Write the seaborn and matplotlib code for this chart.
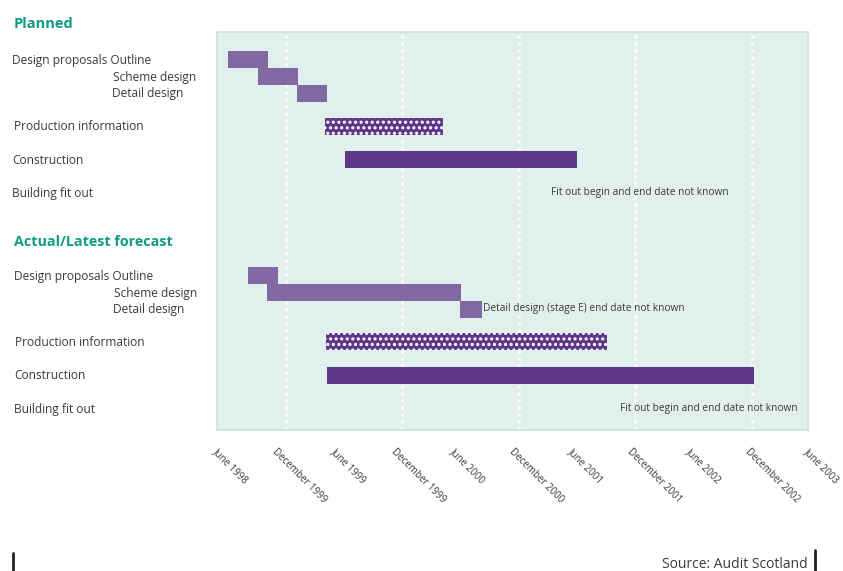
import matplotlib
matplotlib.use("Agg")
import matplotlib.pyplot as plt
import matplotlib.transforms as mtransforms
from matplotlib.lines import Line2D
import seaborn as sns

# ---------------- data (months since June 1998) ----------------
tick_labels = ["June 1998", "December 1999", "June 1999", "December 1999",
               "June 2000", "December 2000", "June 2001", "December 2001",
               "June 2002", "December 2002", "June 2003"]
tick_months = [0, 6, 12, 18, 24, 30, 36, 42, 48, 54, 60]

row_labels = ["Design proposals Outline", "Scheme design", "Detail design",
              "Production information", "Construction", "Building fit out"]

planned_start = [1.1, 4.2, 8.1, 11.0, 13.0]
planned_end = [5.2, 8.2, 11.2, 22.9, 36.5]

actual_start = [3.1, 5.1, 24.7, 11.1, 11.2]
actual_end = [6.2, 24.8, 26.9, 39.6, 54.5]

bar_kind = ["light", "light", "light", "pattern", "dark"]

planned_note = "Fit out begin and end date not known"
planned_note_at = 33.9
actual_fit_note = "Fit out begin and end date not known"
actual_fit_note_at = 40.9
actual_detail_note = "Detail design (stage E) end date not known"

headers = ["Planned", "Actual/Latest forecast"]
source = "Source: Audit Scotland"

# ---------------- style ----------------
sns.set_theme(style="white")
plt.rcParams["font.family"] = ["Open Sans", "DejaVu Sans"]
plt.rcParams["hatch.linewidth"] = 1.5

LIGHT = "#8168A3"
DARK = "#5D3786"
BG = "#E1F0EC"
BORDER = "#C8E3DA"
GREEN = "#0E9C7E"
TXT = "#3A3A3A"

W, H = 843, 571
fig = plt.figure(figsize=(W / 100, H / 100), dpi=100)
ax = fig.add_axes([217 / W, 1 - 430 / H, 591 / W, 398 / H])
ax.set_facecolor(BG)
for s in ax.spines.values():
    s.set_color(BORDER)
    s.set_linewidth(1.2)

# y in pixel-like layout units (top of figure = 0)
ax.set_ylim(430, 32)
ax.set_xlim(0, 60)

planned_rows = [59.5, 76.5, 93, 126, 159.5, 193]
actual_rows = [275.5, 292.5, 309, 341.5, 375, 409]
bar_h = 17

# gridlines
for gx in [7.0, 18.8, 30.7, 42.4, 54.3]:
    ax.axvline(gx, color="white", lw=1.8, ls=(0, (1.2, 1.6)), zorder=1)


def draw_bars(starts, ends, rows):
    for s, e, y, k in zip(starts, ends, rows, bar_kind):
        if k == "light":
            ax.barh(y, e - s, left=s, height=bar_h, color=LIGHT, lw=0, zorder=2)
        elif k == "dark":
            ax.barh(y, e - s, left=s, height=bar_h, color=DARK, lw=0, zorder=2)
        else:
            ax.barh(y, e - s, left=s, height=bar_h, facecolor=DARK,
                    edgecolor="white", hatch="...", lw=0, zorder=2)


draw_bars(planned_start, planned_end, planned_rows)
draw_bars(actual_start, actual_end, actual_rows)

ax.text(planned_note_at, planned_rows[5], planned_note, fontsize=7.3,
        color=TXT, va="center", ha="left")
ax.text(actual_fit_note_at, actual_rows[5], actual_fit_note, fontsize=7.3,
        color=TXT, va="center", ha="left")
ax.text(actual_end[2] + 0.1, actual_rows[2], actual_detail_note, fontsize=7.3,
        color=TXT, va="center", ha="left")

# x ticks
ax.set_xticks(tick_months)
ax.set_xticklabels(tick_labels, rotation=-45, ha="left", va="top",
                   rotation_mode="anchor", fontsize=7.0, color=TXT)
ax.tick_params(axis="x", length=0, pad=14)
shift = mtransforms.ScaledTranslation(2 / 100, 3 / 100, fig.dpi_scale_trans)
for lbl in ax.get_xticklabels():
    lbl.set_transform(lbl.get_transform() + shift)
ax.set_yticks([])

# row labels
trans = mtransforms.blended_transform_factory(fig.transFigure, ax.transData)
planned_x = [12, 113, 112, 14, 12, 12]
actual_x = [14, 114, 113, 15, 14, 14]
for lab, y, x in zip(row_labels, planned_rows, planned_x):
    ax.text(x / W, y + 0.8, lab, transform=trans, fontsize=8.6, color=TXT,
            va="center", ha="left", clip_on=False)
for lab, y, x in zip(row_labels, actual_rows, actual_x):
    ax.text(x / W, y + 0.8, lab, transform=trans, fontsize=8.6, color=TXT,
            va="center", ha="left", clip_on=False)

ax.text(14 / W, 24.5, headers[0], transform=trans, fontsize=10.5,
        fontweight="bold", color=GREEN, va="center", ha="left", clip_on=False)
ax.text(14 / W, 242.5, headers[1], transform=trans, fontsize=10.3,
        fontweight="bold", color=GREEN, va="center", ha="left", clip_on=False)

# source and decorative marks
fig.text(808 / W, 1 - 564 / H, source, fontsize=10, color=TXT,
         ha="right", va="center")
fig.add_artist(Line2D([13 / W, 13 / W], [0, 1 - 553 / H], color="#222222",
                      lw=2, transform=fig.transFigure))
fig.add_artist(Line2D([815 / W, 815 / W], [0, 1 - 550 / H], color="#222222",
                      lw=2, transform=fig.transFigure))

fig.savefig("out.png", dpi=100)
